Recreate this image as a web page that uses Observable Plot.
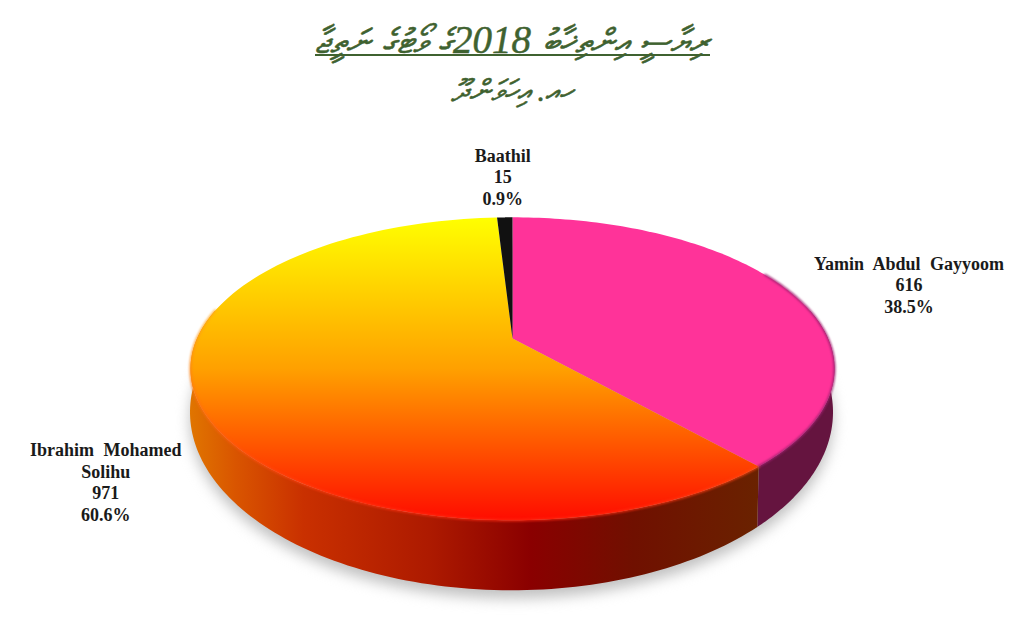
<!DOCTYPE html>
<html><head><meta charset="utf-8">
<script src="https://cdn.jsdelivr.net/npm/d3@7"></script>
<script src="https://cdn.jsdelivr.net/npm/@observablehq/plot@0.6"></script>
<style>
html,body{margin:0;padding:0;background:#fff;overflow:hidden}
#head{height:130px;width:1024px;text-align:center;color:#3f6230;font-family:"Liberation Serif",serif;font-style:italic;position:relative;-webkit-text-stroke:0.5px #3f6230}
#t1{position:absolute;left:0;right:0;top:22px;font-size:34px;line-height:36px;word-spacing:3px}
#t1 b{font-weight:normal;font-size:39px}
#rule{position:absolute;left:315px;width:395px;top:54px;height:2px;background:#3f6230}
#t2{position:absolute;left:0;right:0;top:73px;font-size:30px;line-height:36px}
</style></head><body>
<div id="head"><div id="t1" dir="rtl">ރިޔާސީ އިންތިޚާބު <b>2018</b>ގެ ވޯޓުގެ ނަތީޖާ</div><div id="rule"></div><div id="t2" dir="rtl">ހއ. އިހަވަންދޫ</div></div>
<div id="chart"></div>
<script>
const candidates = ["Yamin Abdul Gayyoom", "Ibrahim Mohamed\nSolihu", "Baathil"];
const votes = [616, 971, 15];
const shares = ["38.5%", "60.6%", "0.9%"];

// layout of the tilted disc
const top_ = {cx: 512, cy: 338, R: 315.5, S: 145.4, k: 0.2};
const base = {cx: 511, cy: 376, R: 315, S: 171, k: 0.2};
const labelOffset = [[121, -6], [-91, 83], [-2, -41]];
const faceFill = ["#ff3399", "url(#topGrad)", "#111111"];
const sideFill = ["#65143f", "url(#sideGrad)", "#111111"];

const arcs = d3.pie().sort(null).value(d => d)(votes);
const tau = 2 * Math.PI;
const proj = (p, a, r = 1) => {
  const u = r * Math.sin(a), v = -r * Math.cos(a), w = 1 - p.k * v;
  return {x: p.cx + p.R * u / w, y: p.cy + p.S * v / w};
};
const sweep = (p, a0, a1) => d3.range(0, 121).map(i => proj(p, a0 + (a1 - a0) * i / 120));

const faces = arcs.map(d => [proj(top_, 0, 0), ...sweep(top_, d.startAngle, d.endAngle), proj(top_, 0, 0)]);
const rightEnd = Math.PI / 2 - Math.asin(top_.k);   // right extreme of the disc
const leftEnd = 3 * Math.PI / 2 + Math.asin(top_.k); // left extreme of the disc
const sides = [
  [...sweep(top_, rightEnd, arcs[0].endAngle), ...sweep(base, arcs[0].endAngle, rightEnd)],
  [...sweep(top_, arcs[1].startAngle, leftEnd), ...sweep(base, leftEnd, arcs[1].startAngle)]
];
const whole = sweep(base, 0, tau);
const rimRed = sweep(top_, arcs[1].startAngle, leftEnd);
const rimPink = sweep(top_, rightEnd - 0.3, arcs[0].endAngle);

const labels = arcs.map((d, i) => {
  const p = proj(top_, (d.startAngle + d.endAngle) / 2);
  return {x: p.x + labelOffset[i][0], y: p.y + labelOffset[i][1],
          text: `${candidates[i]}\n${votes[i]}\n${shares[i]}`};
});

const defs = () => {
  const d = d3.create("svg:defs");
  const grad = (id, x2, y2, stops) => {
    const g = d.append("linearGradient").attr("id", id).attr("x1", 0).attr("y1", 0).attr("x2", x2).attr("y2", y2);
    stops.forEach(([o, c]) => g.append("stop").attr("offset", o).attr("stop-color", c));
  };
  grad("topGrad", 0, 1, [[0, "#ffff00"], [0.5, "#ffa000"], [1, "#ff0c00"]]);
  grad("sideGrad", 1, 0, [[0, "#e07500"], [0.08, "#d95500"], [0.2, "#c93000"], [0.42, "#ad1a00"], [0.6, "#8a0000"], [0.78, "#701000"], [1, "#6a2200"]]);
  grad("rimGrad", 0, 1, [[0, "#ffa818"], [0.5, "#ff6a10"], [1, "#ff2a10"]]);
  return d.node();
};

const poly = (pts, fill, extra = {}) => Plot.line(pts, {x: "x", y: "y", fill, stroke: "none", ...extra});

const chart = Plot.plot({
  width: 1024, height: 490, margin: 0,
  style: {wordSpacing: "5px"},
  x: {domain: [0, 1024], range: [0, 1024], axis: null},
  y: {domain: [130, 620], range: [0, 490], axis: null},
  marks: [
    defs,
    Plot.line(whole, {x: "x", y: d => d.y + 8, fill: "#c0c0c0", stroke: "none", imageFilter: "blur(7px)"}),
    poly(sides[0], sideFill[0]),
    poly(sides[1], sideFill[1]),
    poly(faces[0], faceFill[0]),
    poly(faces[1], faceFill[1]),
    poly(faces[2], faceFill[2]),
    Plot.line(rimRed, {x: "x", y: "y", stroke: "url(#rimGrad)", strokeWidth: 2.5, strokeOpacity: 0.75, imageFilter: "blur(1px)"}),
    Plot.line(rimPink, {x: "x", y: "y", stroke: "#a02070", strokeWidth: 2, imageFilter: "blur(1px)"}),
    Plot.text(labels, {x: "x", y: "y", text: "text", fontFamily: "Liberation Serif", fontWeight: "bold", fontSize: 18, lineHeight: 1.19, fill: "#1a1a1a"})
  ]
});
document.getElementById("chart").appendChild(chart);
</script>
</body></html>
